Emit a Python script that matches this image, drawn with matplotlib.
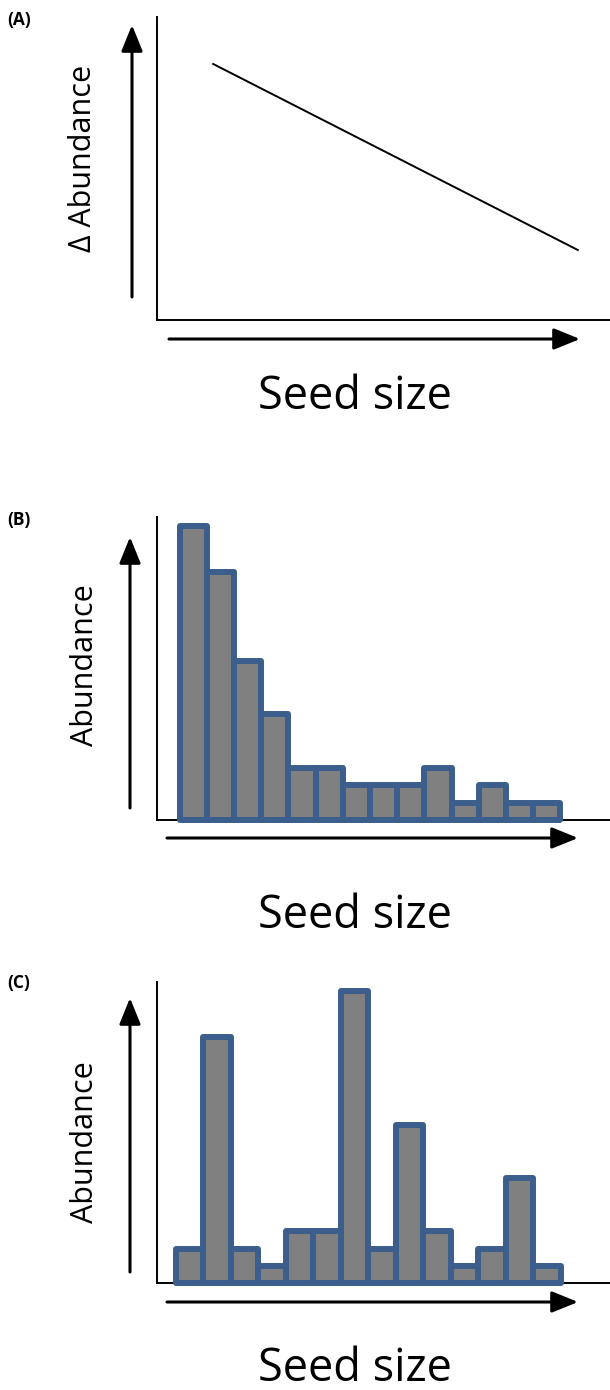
import matplotlib
matplotlib.use("Agg")
import matplotlib.pyplot as plt
from matplotlib.patches import FancyArrowPatch

# values (arbitrary abundance units)
bin_index = list(range(14))
abundance_b = [17, 14.3, 9.2, 6.1, 3, 3, 2, 2, 2, 3, 1, 2, 1, 1]
abundance_c = [2, 14.3, 2, 1, 3, 3, 17, 2, 9.2, 3, 1, 2, 6.1, 1]
trend_x = [0.124, 0.929]
trend_y = [0.845, 0.231]

panel_letters = ["(A)", "(B)", "(C)"]
y_labels = ["\u0394 Abundance", "Abundance", "Abundance"]
x_label = "Seed size"

W, H = 610, 1390
BAR_FILL = "#808080"
BAR_EDGE = "#3b5e8c"

plt.rcParams["font.family"] = ["Open Sans", "DejaVu Sans"]

fig = plt.figure(figsize=(W / 100, H / 100), dpi=100)


def px_axes(left, top, right, bottom):
    # pixel box measured from the top-left corner
    ax = fig.add_axes([left / W, 1 - bottom / H, (right - left) / W, (bottom - top) / H])
    for side in ("top", "right"):
        ax.spines[side].set_visible(False)
    for side in ("left", "bottom"):
        ax.spines[side].set_linewidth(1.4)
    ax.set_xticks([])
    ax.set_yticks([])
    return ax


def arrow(x0, y0, x1, y1):
    a = FancyArrowPatch((x0 / W, 1 - y0 / H), (x1 / W, 1 - y1 / H),
                        transform=fig.transFigure, mutation_scale=1,
                        arrowstyle="-|>,head_length=16,head_width=6.5",
                        lw=2.2, color="black", shrinkA=0, shrinkB=0)
    fig.add_artist(a)


def fig_text(x, y, s, **kw):
    fig.text(x / W, 1 - y / H, s, **kw)


# pixel layout of each panel: axes box, arrows, label spots
panels = [
    dict(box=(157, 17, 610, 320), varrow=(132, 297, 25), harrow=(339, 169, 580),
         ylab=(83, 158), xlab_base=409, letter_y=20),
    dict(box=(157, 517, 610, 820), varrow=(130, 808, 537), harrow=(838, 167, 578),
         ylab=(85, 665), xlab_base=928, letter_y=520),
    dict(box=(157, 982, 610, 1283), varrow=(130, 1272, 998), harrow=(1302, 167, 578),
         ylab=(85, 1142), xlab_base=1381, letter_y=983),
]

axes = []
for i, p in enumerate(panels):
    ax = px_axes(*p["box"])
    axes.append(ax)
    vx, vy0, vy1 = p["varrow"]
    arrow(vx, vy0, vx, vy1)
    hy, hx0, hx1 = p["harrow"]
    arrow(hx0, hy, hx1, hy)
    fig_text(p["ylab"][0], p["ylab"][1], y_labels[i], rotation=90,
             ha="center", va="center", fontsize=22)
    fig_text(355, p["xlab_base"], x_label, ha="center", va="baseline", fontsize=32.5)
    fig_text(7, p["letter_y"], panel_letters[i], ha="left", va="center",
             fontsize=12.5, fontweight="bold")

# (A) change in abundance vs seed size
axes[0].plot(trend_x, trend_y, color="black", lw=1.4)
axes[0].set_xlim(0, 1)
axes[0].set_ylim(0, 1)

# (B) and (C) abundance histograms
for ax, vals, xl in ((axes[1], abundance_b, (-1.327, 15.32)),
                     (axes[2], abundance_c, (-1.173, 15.30))):
    ax.bar(bin_index, vals, width=1, color=BAR_FILL, edgecolor=BAR_EDGE,
           linewidth=4.3, joinstyle="round", zorder=3, clip_on=False)
    ax.set_xlim(*xl)
    ax.set_ylim(0, 17.5)

fig.savefig("out.png", dpi=100)
